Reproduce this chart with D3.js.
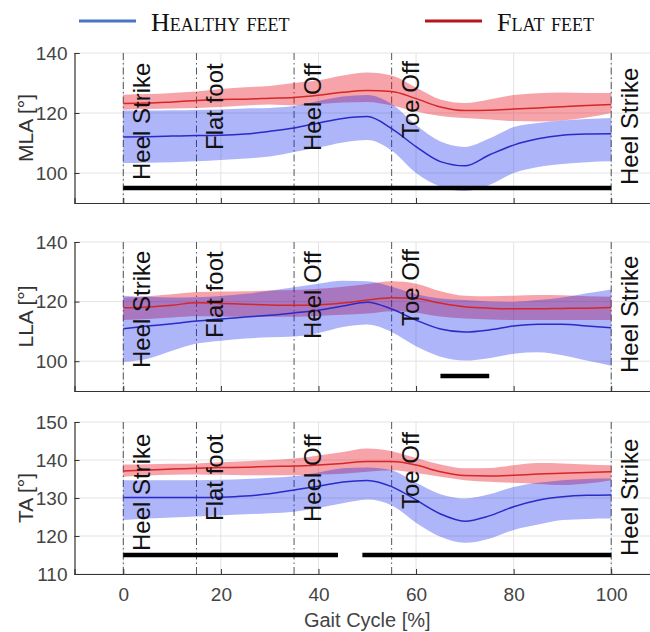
<!DOCTYPE html>
<html>
<head>
<meta charset="utf-8">
<script src="https://cdn.jsdelivr.net/npm/d3@7"></script>
<style>
  body { margin: 0; background: #fff; }
  svg { display: block; }
</style>
</head>
<body>
<script>
// gait cycle sample points [%]
var gaitX = [0,5,10,15,20,25,30,35,40,45,50,55,60,65,70,75,80,85,90,95,100];

// MLA
var mlaHealthyMean = [112.0,112.1,112.3,112.5,112.6,113.0,113.9,115.0,116.7,118.2,118.8,114.8,108.8,103.8,102.4,106.0,109.3,111.4,112.6,113.0,113.1];
var mlaHealthyHi   = [120.8,120.8,120.9,121.0,121.2,121.5,121.7,122.3,124.0,125.5,126.0,123.0,116.0,110.5,108.7,111.5,115.3,116.7,117.5,118.0,118.3];
var mlaHealthyLo   = [103.3,103.4,103.6,103.9,104.3,104.8,105.5,107.0,108.5,110.2,111.0,107.5,100.0,95.5,94.0,96.0,100.0,102.0,103.0,103.6,103.9];
var mlaFlatMean = [123.2,123.3,123.7,124.2,124.5,124.6,124.9,125.2,125.9,126.9,127.5,127.2,124.8,122.0,120.8,120.9,121.3,121.7,122.1,122.5,122.8];
var mlaFlatHi   = [126.1,126.3,126.7,127.2,128.0,128.6,129.0,130.0,130.9,132.5,133.5,132.5,128.5,124.5,123.3,124.5,126.0,126.6,126.8,126.7,126.7];
var mlaFlatLo   = [121.1,121.3,121.5,121.7,122.0,122.5,122.8,122.5,123.0,123.5,123.7,122.5,120.5,119.0,118.3,117.8,117.3,117.2,117.5,118.5,120.0];

// LLA
var llaHealthyMean = [110.9,111.8,112.6,113.5,114.2,114.8,115.4,116.2,117.1,118.5,119.8,117.5,113.8,110.8,109.8,110.5,111.8,112.4,112.4,111.8,111.2];
var llaHealthyHi   = [122.0,121.6,121.4,121.5,121.9,122.6,123.6,124.8,126.0,127.0,126.8,125.0,122.5,121.0,120.5,120.0,119.9,120.5,121.4,122.8,124.1];
var llaHealthyLo   = [99.7,100.8,103.5,105.9,106.9,107.6,108.0,108.3,109.5,111.5,112.3,109.8,105.0,101.5,100.2,101.0,102.5,103.0,102.0,100.2,98.5];
var llaFlatMean = [117.9,118.2,118.8,119.6,119.4,119.1,118.9,118.8,118.9,119.5,120.5,121.3,121.0,119.5,118.3,117.8,117.6,117.6,117.7,117.8,118.0];
var llaFlatHi   = [121.4,121.8,122.5,123.2,123.4,123.5,123.7,123.9,124.3,125.0,125.9,126.8,126.0,123.5,122.0,121.8,122.0,122.2,122.1,121.8,121.6];
var llaFlatLo   = [113.8,114.2,114.7,115.1,115.0,114.9,114.9,114.9,115.2,115.6,116.0,116.8,116.3,115.0,114.3,114.0,113.8,113.8,113.8,113.8,113.8];

// TA
var taHealthyMean = [130.1,130.1,130.1,130.1,130.2,130.5,131.1,132.1,133.1,134.2,134.6,133.0,129.5,125.8,123.9,125.3,127.7,129.4,130.3,130.7,130.8];
var taHealthyHi   = [134.7,134.7,134.7,134.7,134.8,135.0,135.3,135.7,136.7,137.8,138.0,137.3,134.0,131.0,129.9,131.0,132.9,134.0,134.7,135.0,135.1];
var taHealthyLo   = [124.2,124.6,124.9,125.1,125.4,125.7,126.0,126.4,127.4,128.6,129.6,128.1,123.5,119.8,118.2,119.3,121.6,123.0,124.2,124.5,124.6];
var taFlatMean = [137.1,137.4,137.6,137.8,138.0,138.1,138.3,138.4,138.7,139.1,139.6,139.6,138.7,136.9,135.9,135.8,136.0,136.3,136.5,136.7,136.9];
var taFlatHi   = [138.8,138.9,139.0,139.1,139.4,139.7,140.0,140.4,141.2,142.1,143.0,142.3,140.5,138.8,137.8,137.9,138.6,139.2,139.1,138.8,138.6];
var taFlatLo   = [135.6,135.9,136.1,136.2,136.1,136.0,136.0,136.0,136.2,136.4,136.9,137.3,136.6,135.6,134.7,134.3,134.0,133.7,133.4,133.8,134.7];

// gait events
var eventX = [0, 15, 35, 55, 100];
var eventNames = ["Heel Strike", "Flat foot", "Heel Off", "Toe Off", "Heel Strike"];

// significance bars [start, end] and their level
var mlaSig = [[0, 100]], llaSig = [[65, 75]], taSig = [[0, 44], [49, 100]];
var sigLevel = [95, 95, 115];

// axes
var yLabels = ["MLA [°]", "LLA [°]", "TA [°]"];
var yDomains = [[90, 140], [90, 140], [110, 150]];
var yTicks = [[100, 120, 140], [100, 120, 140], [110, 120, 130, 140, 150]];
var xTicks = [0, 20, 40, 60, 80, 100];
var legendNames = ["Healthy feet", "Flat feet"];

var panels = [
  {healthy: [mlaHealthyMean, mlaHealthyLo, mlaHealthyHi], flat: [mlaFlatMean, mlaFlatLo, mlaFlatHi], sig: mlaSig},
  {healthy: [llaHealthyMean, llaHealthyLo, llaHealthyHi], flat: [llaFlatMean, llaFlatLo, llaFlatHi], sig: llaSig},
  {healthy: [taHealthyMean, taHealthyLo, taHealthyHi], flat: [taFlatMean, taFlatLo, taFlatHi], sig: taSig}
];

var width = 650, height = 632;
var panelTop = [53, 242, 422], panelBottom = [203, 391, 574];
var labelOffset = [23, 53, 52, 65, 18];

var svg = d3.select("body").append("svg")
    .attr("width", width)
    .attr("height", height)
    .style("font-family", "'Liberation Sans', Arial, sans-serif");

var x = d3.scaleLinear().domain([-10, 110]).range([74.5, 660]);

panels.forEach(function(p, i){
    var y = d3.scaleLinear().domain(yDomains[i]).range([panelBottom[i], panelTop[i]]);
    var g = svg.append("g");

    // grid
    g.selectAll(".gy").data(yTicks[i]).enter().append("line")
        .attr("x1", x(-10)).attr("x2", width)
        .attr("y1", d => y(d)).attr("y2", d => y(d))
        .attr("stroke", "#e3e3e3").attr("stroke-width", 1);
    g.selectAll(".gx").data(xTicks).enter().append("line")
        .attr("x1", d => x(d)).attr("x2", d => x(d))
        .attr("y1", y.range()[1]).attr("y2", y.range()[0])
        .attr("stroke", "#e3e3e3").attr("stroke-width", 1);

    // event lines
    g.selectAll(".ev").data(eventX).enter().append("line")
        .attr("x1", d => x(d)).attr("x2", d => x(d))
        .attr("y1", y.range()[1]).attr("y2", y.range()[0])
        .attr("stroke", "#555").attr("stroke-width", 1)
        .attr("stroke-dasharray", "7,3,1.5,3");

    // bands and mean lines
    var groups = [
        {d: p.flat, band: "rgba(232,0,20,0.36)", line: "#d62626"},
        {d: p.healthy, band: "rgba(10,30,235,0.33)", line: "#2a2ac8"}
    ];
    groups.forEach(function(s){
        var area = d3.area()
            .x((d, k) => x(gaitX[k]))
            .y0((d, k) => y(s.d[1][k]))
            .y1((d, k) => y(s.d[2][k]))
            .curve(d3.curveMonotoneX);
        g.append("path").datum(gaitX).attr("d", area).attr("fill", s.band);
    });
    groups.forEach(function(s){
        var line = d3.line()
            .x((d, k) => x(gaitX[k]))
            .y(d => y(d))
            .curve(d3.curveMonotoneX);
        g.append("path").datum(s.d[0]).attr("d", line)
            .attr("fill", "none").attr("stroke", s.line).attr("stroke-width", 1.5);
    });

    // event labels
    g.selectAll(".lbl").data(eventX).enter().append("text")
        .attr("transform", (d, k) => "translate(" + (x(d) + 27) + "," + (panelBottom[i] - labelOffset[k]) + ") rotate(-90)")
        .attr("font-size", 24)
        .attr("fill", "#111")
        .text((d, k) => eventNames[k]);

    // significance bars
    g.selectAll(".sig").data(p.sig).enter().append("line")
        .attr("x1", d => x(d[0])).attr("x2", d => x(d[1]))
        .attr("y1", y(sigLevel[i])).attr("y2", y(sigLevel[i]))
        .attr("stroke", "#000").attr("stroke-width", 4.5);

    // axes
    var yAxis = d3.axisLeft(y).tickValues(yTicks[i]).tickSize(-5).tickPadding(7);
    var ya = g.append("g").attr("transform", "translate(" + x(-10) + ",0)").call(yAxis);
    var xAxis = d3.axisBottom(x).tickValues(xTicks).tickSize(-5).tickFormat(i === 2 ? d3.format("d") : "");
    var xa = g.append("g").attr("transform", "translate(0," + panelBottom[i] + ")").call(xAxis);
    [ya, xa].forEach(function(a){
        a.select(".domain").attr("stroke", "#333").attr("stroke-width", 1.2);
        a.selectAll(".tick line").attr("stroke", "#333");
        a.selectAll("text").attr("font-size", 19).attr("fill", "#444")
            .attr("font-family", "'Liberation Sans', Arial, sans-serif");
    });
    xa.selectAll("text").attr("dy", null).attr("y", 27);

    // y label
    svg.append("text")
        .attr("transform", "translate(33," + ((panelTop[i] + panelBottom[i]) / 2) + ") rotate(-90)")
        .attr("text-anchor", "middle")
        .attr("font-size", 21)
        .attr("fill", "#333")
        .text(yLabels[i]);
});

// x label
svg.append("text")
    .attr("x", x(50)).attr("y", 627)
    .attr("text-anchor", "middle")
    .attr("font-size", 20)
    .attr("fill", "#444")
    .text("Gait Cycle [%]");

// legend
var legendColors = ["#4a74c6", "#b3161e"];
var legendX = [79, 425];
var leg = svg.selectAll(".leg").data(legendNames).enter().append("g")
    .attr("transform", (d, k) => "translate(" + legendX[k] + ",0)");
leg.append("line")
    .attr("x1", 0).attr("x2", 57).attr("y1", 21).attr("y2", 21)
    .attr("stroke", (d, k) => legendColors[k]).attr("stroke-width", 3);
leg.append("text")
    .attr("x", 72).attr("y", 31)
    .attr("font-family", "'Liberation Serif', 'Times New Roman', serif")
    .attr("font-size", 26)
    .style("font-variant", "small-caps")
    .attr("fill", "#111")
    .text(d => d);
</script>
</body>
</html>
